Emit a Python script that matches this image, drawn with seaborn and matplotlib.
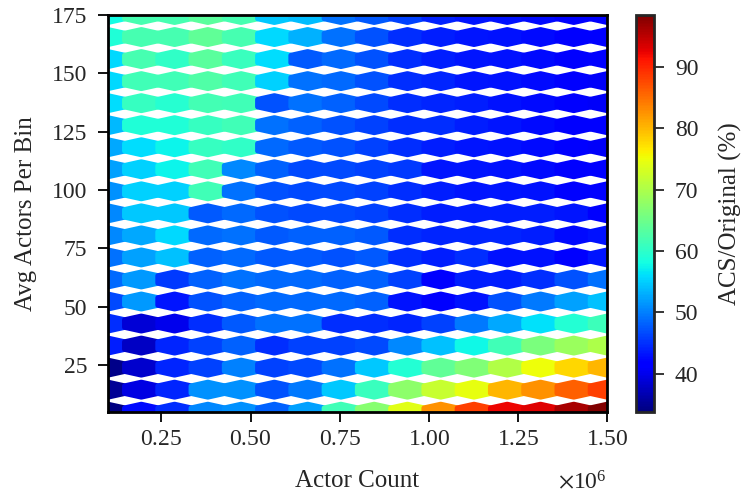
import numpy as np
import pandas as pd
import matplotlib
matplotlib.use("Agg")
import matplotlib.pyplot as plt
import matplotlib.ticker as mticker
import seaborn as sns

# bin centres (x: actor count, y: avg actors per bin)
actor_count = [100000, 193333, 286667, 380000, 473333, 566667, 660000, 753333,
               846667, 940000, 1033333, 1126667, 1220000, 1313333, 1406667, 1500000]
avg_actors = [5.0, 14.4, 23.9, 33.3, 42.8, 52.2, 61.7, 71.1, 80.6, 90.0,
              99.4, 108.9, 118.3, 127.8, 137.2, 146.7, 156.1, 165.6, 175.0]

# ACS/Original (%) per bin, rows from top (175) down to bottom (5)
acs_rows = [
    [58.0, 62.0, 62.0, 63.5, 62.0, 54.6, 54.0, 49.0, 47.5, 46.0, 44.0, 43.4, 43.0, 42.5, 42.0, 41.0],
    [59.0, 62.0, 62.0, 64.0, 62.0, 55.7, 53.1, 49.0, 47.0, 44.9, 43.9, 43.4, 42.9, 42.4, 41.8, 41.0],
    [55.7, 62.0, 60.2, 63.5, 61.0, 56.0, 47.5, 48.5, 47.0, 44.9, 43.9, 43.4, 42.9, 42.4, 41.5, 41.0],
    [55.7, 61.4, 61.4, 62.7, 61.4, 55.2, 49.0, 48.5, 47.0, 44.9, 44.4, 43.4, 42.9, 42.4, 41.5, 40.8],
    [56.0, 60.8, 59.5, 61.8, 61.4, 47.0, 49.0, 48.0, 46.5, 44.9, 44.4, 43.9, 42.9, 42.4, 41.5, 40.8],
    [53.6, 58.9, 58.9, 60.8, 61.4, 49.0, 48.0, 47.0, 46.0, 44.9, 44.9, 43.9, 43.4, 42.4, 41.8, 41.0],
    [52.6, 56.0, 57.5, 60.8, 60.2, 48.5, 47.5, 47.0, 46.0, 44.9, 43.9, 43.4, 42.9, 42.4, 41.5, 40.8],
    [52.1, 55.2, 57.5, 61.4, 50.5, 48.0, 46.5, 46.5, 46.0, 45.5, 43.4, 43.4, 42.9, 42.4, 41.5, 41.0],
    [51.1, 55.2, 55.2, 61.4, 49.0, 47.0, 46.5, 46.5, 46.0, 44.9, 43.9, 43.4, 43.4, 42.9, 42.0, 41.0],
    [50.5, 54.6, 54.6, 47.5, 48.5, 47.0, 46.5, 46.5, 46.0, 44.9, 43.9, 43.9, 43.9, 43.9, 43.4, 41.0],
    [50.5, 52.6, 55.7, 48.5, 49.0, 47.5, 48.0, 48.0, 47.5, 44.9, 44.4, 44.4, 44.4, 43.9, 42.4, 42.9],
    [49.0, 52.1, 54.1, 48.0, 48.5, 47.5, 47.5, 47.0, 47.5, 44.9, 43.9, 44.9, 42.9, 42.9, 41.5, 43.4],
    [48.5, 51.6, 45.5, 48.0, 49.0, 48.5, 48.5, 48.0, 48.0, 46.0, 41.5, 43.9, 43.9, 44.9, 47.0, 49.0],
    [46.5, 51.6, 43.4, 47.0, 48.0, 48.5, 48.5, 48.5, 48.0, 42.9, 41.0, 42.9, 47.0, 49.5, 52.1, 54.1],
    [44.9, 38.8, 40.0, 44.9, 47.5, 49.0, 49.0, 44.9, 44.9, 44.4, 46.0, 49.5, 52.6, 56.2, 59.2, 61.2],
    [43.9, 37.8, 44.4, 46.0, 48.0, 44.9, 46.0, 46.0, 46.5, 50.5, 54.1, 57.7, 61.4, 65.9, 68.5, 70.0],
    [34.5, 38.3, 44.4, 46.0, 50.0, 46.0, 46.5, 49.0, 54.6, 59.2, 64.0, 66.5, 70.3, 75.0, 77.8, 80.1],
    [35.2, 39.6, 44.4, 51.1, 51.1, 47.0, 49.5, 54.6, 61.0, 67.5, 72.1, 74.5, 80.1, 82.8, 86.1, 88.3],
    [33.8, 42.4, 44.9, 50.5, 51.1, 48.0, 52.0, 61.4, 67.0, 74.0, 82.8, 88.3, 92.2, 93.1, 96.0, 98.5],
]

x_ticks = [250000, 500000, 750000, 1000000, 1250000, 1500000]
y_ticks = [25, 50, 75, 100, 125, 150, 175]

sns.set_theme(style="ticks")
plt.rcParams['font.family'] = ['Liberation Serif', 'DejaVu Serif']
plt.rcParams['mathtext.fontset'] = 'stix'

rows = []
for yi, y in enumerate(avg_actors):
    vals = acs_rows[len(avg_actors) - 1 - yi]
    for xi, x in enumerate(actor_count):
        rows.append((x, y, vals[xi]))
df = pd.DataFrame(rows, columns=["actor_count", "avg_actors", "acs_pct"])

fig = plt.figure(figsize=(7.42, 5), dpi=100)
ax = fig.add_axes([0.1456, 0.1766, 0.6725, 0.7934])
cax = fig.add_axes([0.857, 0.1766, 0.0243, 0.7934])

hb = ax.hexbin(df["actor_count"], df["avg_actors"], C=df["acs_pct"],
               gridsize=(15, 18), extent=(1e5, 1.5e6, 5, 175),
               reduce_C_function=np.mean, cmap="jet", linewidths=3.8)
ax.set_xlim(1e5, 1.5e6)
ax.set_ylim(5, 175)
ax.set_xticks(x_ticks)
ax.set_yticks(y_ticks)
fmt = mticker.ScalarFormatter(useMathText=True)
ax.xaxis.set_major_formatter(fmt)
ax.xaxis.OFFSETTEXTPAD = 15
ax.set_xlabel("Actor Count", fontsize=18, labelpad=14)
ax.set_ylabel("Avg Actors Per Bin", fontsize=18, labelpad=11)
ax.tick_params(labelsize=17, width=1.3, length=7, color="black")
ax.tick_params(axis="x", pad=5.5)
ax.tick_params(axis="y", pad=8)
ax.xaxis.get_offset_text().set_fontsize(17)
for s in ax.spines.values():
    s.set_linewidth(2)
    s.set_color("black")

cb = fig.colorbar(hb, cax=cax)
cb.set_label("ACS/Original (%)", fontsize=18, labelpad=15)
cb.ax.tick_params(labelsize=17, width=1.3, length=7, pad=8)
cb.outline.set_linewidth(2)

fig.savefig("out.png", dpi=100)
